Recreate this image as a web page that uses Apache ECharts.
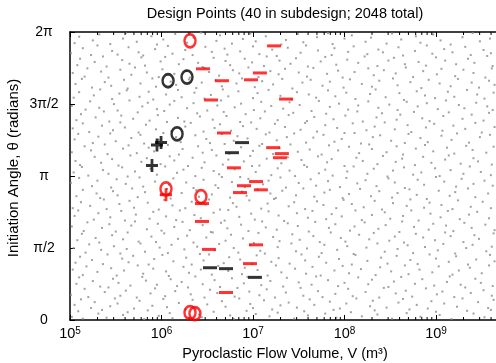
<!DOCTYPE html>
<html><head><meta charset="utf-8">
<script src="https://cdn.jsdelivr.net/npm/echarts@6/dist/echarts.min.js"></script>
<style>html,body{margin:0;padding:0;background:#fff}#c{width:496px;height:363px}</style>
</head><body><div id="c"></div>
<script>
const PI = Math.PI;
const titleText = 'Design Points (40 in subdesign; 2048 total)';
const xName = 'Pyroclastic Flow Volume, V (m³)';
const yName = 'Initiation Angle, θ (radians)';
const yTickLabels = ['0', 'π/2', 'π', '3π/2', '2π'];
const xMinorMultipliers = [2, 3, 4, 5, 6, 7, 8, 9];
const xDecades = [5, 6, 7, 8, 9];

// subdesign points: [V (m^3), theta (rad)]
const redO = [[2.05e6, 6.09], [1.12e6, 2.86], [2.70e6, 2.69], [2.05e6, 0.16], [2.32e6, 0.14]];
const blackO = [[1.18e6, 5.22], [1.90e6, 5.30], [1.48e6, 4.06]];
const blackPlus = [[8.93e5, 3.82], [9.89e5, 3.87], [7.87e5, 3.37]];
const redPlus = [[1.12e6, 2.73]];
const redDash = [[2.84e6, 5.48], [4.58e6, 5.22], [9.51e6, 5.24], [1.19e7, 5.39], [1.70e7, 5.98], [3.48e6, 4.80], [2.30e7, 4.82], [4.82e6, 4.08], [1.66e7, 3.76], [2.07e7, 3.63], [1.97e7, 3.54], [6.19e6, 3.32], [1.08e7, 3.02], [7.98e6, 2.93], [1.22e7, 2.84], [7.21e6, 2.78], [2.77e6, 2.54], [2.77e6, 2.15], [3.30e6, 1.54], [1.08e7, 1.64], [9.27e6, 1.23], [5.07e6, 0.60]];
const blackDash = [[7.59e6, 3.87], [5.89e6, 3.65], [3.39e6, 1.14], [5.07e6, 1.12], [1.05e7, 0.93]];

// full design (background), pairs of [log10 V, theta]
const grayLogVTheta = [
5.02,.07,5.09,.19,5.14,.03,5.31,.14,5.35,.22,5.40,.05,5.58,.11,5.63,.17,5.81,.02,5.85,.21,5.97,.09,6.09,.15,6.12,.04,6.26,.23,6.41,.12,6.44,.06,6.57,.18,6.75,.10,6.79,.02,6.93,.20,7.03,.13,7.18,.08,7.21,.23,7.27,.16,7.45,.03,7.56,.19,7.60,.10,7.79,.14,7.88,.22,7.91,.05,8.07,.17,8.19,.08,8.33,.21,8.36,.12,8.52,.03,8.68,.15,8.71,.23,8.83,.07,9.00,.18,9.04,.11,9.17,.02,9.34,.20,9.41,.14,9.53,.06,9.60,.22,
5.05,.33,5.12,.45,5.23,.26,5.27,.39,5.44,.30,5.49,.47,5.52,.36,5.70,.25,5.76,.42,5.90,.31,6.02,.46,6.06,.28,6.19,.37,6.34,.44,6.38,.25,6.50,.34,6.66,.41,6.70,.29,6.85,.47,6.97,.35,7.00,.26,7.12,.43,7.30,.32,7.39,.38,7.48,.27,7.62,.45,7.67,.33,7.84,.40,7.95,.25,8.02,.36,8.13,.47,8.28,.30,8.31,.42,8.46,.27,8.59,.38,8.64,.46,8.79,.33,8.91,.25,8.95,.41,9.09,.36,9.23,.29,9.29,.47,9.46,.39,9.57,.26,9.63,.44,
5.01,.55,5.16,.68,5.20,.50,5.38,.61,5.42,.71,5.55,.53,5.61,.64,5.73,.49,5.88,.58,5.93,.69,6.04,.52,6.15,.63,6.29,.71,6.32,.56,6.47,.49,6.53,.66,6.61,.59,6.80,.51,6.83,.70,6.96,.62,7.07,.54,7.15,.67,7.24,.49,7.36,.60,7.52,.70,7.55,.53,7.71,.63,7.76,.50,7.90,.57,8.04,.68,8.09,.52,8.23,.61,8.38,.49,8.43,.70,8.56,.58,8.67,.64,8.74,.51,8.89,.69,9.01,.56,9.07,.62,9.20,.50,9.32,.71,9.38,.59,9.52,.65,9.61,.53,
5.07,.79,5.10,.93,5.25,.85,5.33,.73,5.47,.90,5.53,.81,5.66,.75,5.79,.94,5.83,.86,5.95,.77,6.10,.89,6.17,.74,6.22,.83,6.37,.95,6.45,.78,6.58,.87,6.64,.72,6.77,.91,6.90,.80,6.94,.94,7.09,.76,7.19,.85,7.33,.73,7.37,.92,7.50,.82,7.64,.77,7.69,.95,7.82,.87,7.93,.74,8.00,.81,8.15,.93,8.26,.78,8.30,.88,8.48,.72,8.54,.84,8.62,.94,8.77,.79,8.85,.89,8.98,.75,9.12,.83,9.15,.95,9.27,.77,9.43,.90,9.49,.81,9.62,.74,
5.03,1.10,5.14,.98,5.18,1.17,5.30,1.05,5.45,1.13,5.51,.97,5.59,1.08,5.74,1.19,5.80,1.01,5.91,1.12,6.05,1.06,6.08,.96,6.24,1.16,6.30,1.03,6.43,1.10,6.55,.99,6.62,1.18,6.73,1.07,6.88,1.00,6.91,1.14,7.05,1.09,7.16,.97,7.25,1.19,7.31,1.04,7.46,1.12,7.58,1.01,7.65,1.16,7.74,.97,7.89,1.08,7.98,1.18,8.05,1.02,8.18,1.11,8.34,.98,8.39,1.15,8.51,1.06,8.66,1.19,8.70,1.00,8.82,1.10,8.96,1.04,9.03,1.17,9.18,.99,9.25,1.08,9.37,1.14,9.50,1.02,9.58,1.19,
5.06,1.25,5.11,1.38,5.24,1.31,5.36,1.22,5.41,1.43,5.57,1.34,5.64,1.26,5.69,1.40,5.86,1.21,5.92,1.33,6.01,1.42,6.13,1.28,6.27,1.36,6.33,1.21,6.46,1.30,6.52,1.43,6.68,1.24,6.74,1.37,6.86,1.32,6.99,1.22,7.04,1.41,7.20,1.27,7.28,1.35,7.40,1.23,7.53,1.43,7.57,1.30,7.72,1.38,7.80,1.25,7.94,1.33,8.08,1.21,8.12,1.42,8.25,1.29,8.40,1.36,8.47,1.23,8.57,1.40,8.72,1.31,8.80,1.22,8.93,1.43,9.00,1.34,9.14,1.27,9.22,1.39,9.35,1.21,9.44,1.32,9.59,1.42,9.64,1.28,
5.04,1.57,5.17,1.47,5.21,1.65,5.34,1.53,5.48,1.61,5.55,1.45,5.62,1.55,5.77,1.67,5.82,1.49,5.98,1.58,6.07,1.46,6.11,1.64,6.25,1.54,6.39,1.60,6.42,1.44,6.58,1.52,6.63,1.66,6.79,1.57,6.84,1.47,6.97,1.63,7.08,1.51,7.13,1.45,7.27,1.59,7.42,1.67,7.47,1.50,7.59,1.56,7.75,1.46,7.78,1.64,7.92,1.53,8.03,1.61,8.10,1.44,8.24,1.58,8.36,1.67,8.44,1.49,8.58,1.55,8.69,1.63,8.75,1.46,8.88,1.59,9.02,1.52,9.08,1.66,9.21,1.45,9.33,1.57,9.40,1.64,9.55,1.50,9.61,1.60,
5.08,1.74,5.13,1.88,5.28,1.79,5.32,1.69,5.46,1.85,5.58,1.76,5.63,1.91,5.75,1.71,5.89,1.82,5.94,1.70,6.03,1.89,6.18,1.77,6.28,1.84,6.35,1.69,6.49,1.80,6.56,1.91,6.70,1.73,6.76,1.86,6.89,1.78,7.01,1.68,7.06,1.90,7.22,1.81,7.29,1.72,7.43,1.87,7.51,1.75,7.66,1.83,7.73,1.70,7.85,1.91,7.96,1.79,8.01,1.71,8.16,1.86,8.27,1.76,8.32,1.90,8.49,1.73,8.55,1.82,8.65,1.69,8.78,1.88,8.86,1.80,8.99,1.74,9.10,1.91,9.16,1.83,9.30,1.70,9.42,1.85,9.47,1.77,9.63,1.89,
5.02,2.04,5.15,1.94,5.19,2.13,5.35,2.01,5.43,2.09,5.50,1.93,5.67,2.06,5.71,2.15,5.84,1.98,5.96,2.10,6.00,1.95,6.14,2.03,6.23,2.14,6.31,1.96,6.45,2.07,6.54,1.92,6.65,2.12,6.72,2.00,6.87,2.08,6.95,1.94,7.10,2.15,7.14,2.02,7.26,1.97,7.38,2.11,7.49,2.05,7.61,1.93,7.68,2.14,7.83,2.01,7.90,2.09,8.06,1.95,8.11,2.04,8.22,2.13,8.37,1.99,8.45,2.07,8.60,1.92,8.63,2.15,8.76,2.03,8.92,1.97,8.97,2.10,9.11,2.06,9.19,1.94,9.31,2.12,9.39,2.01,9.54,2.08,9.64,1.96,
5.05,2.27,5.09,2.39,5.26,2.19,5.31,2.33,5.44,2.24,5.56,2.38,5.60,2.17,5.72,2.30,5.87,2.21,5.91,2.36,6.05,2.26,6.16,2.18,6.20,2.39,6.36,2.29,6.43,2.22,6.57,2.34,6.69,2.17,6.73,2.40,6.85,2.25,6.98,2.32,7.02,2.19,7.17,2.37,7.28,2.28,7.34,2.16,7.48,2.33,7.60,2.23,7.65,2.38,7.80,2.20,7.86,2.31,7.97,2.26,8.12,2.39,8.19,2.18,8.30,2.29,8.44,2.35,8.50,2.21,8.64,2.27,8.73,2.39,8.81,2.17,8.94,2.32,9.05,2.24,9.13,2.38,9.26,2.20,9.36,2.30,9.45,2.36,9.58,2.22,
5.03,2.44,5.12,2.57,5.22,2.49,5.37,2.63,5.40,2.42,5.54,2.53,5.65,2.60,5.70,2.45,5.85,2.56,5.97,2.41,6.03,2.62,6.12,2.50,6.26,2.44,6.33,2.58,6.48,2.52,6.52,2.63,6.64,2.41,6.78,2.55,6.82,2.47,6.96,2.61,7.09,2.43,7.16,2.54,7.23,2.64,7.39,2.48,7.45,2.57,7.57,2.42,7.70,2.59,7.77,2.51,7.91,2.44,7.99,2.62,8.08,2.53,8.21,2.46,8.33,2.60,8.41,2.41,8.53,2.55,8.68,2.49,8.72,2.63,8.87,2.45,8.93,2.56,9.06,2.51,9.18,2.42,9.24,2.61,9.38,2.47,9.51,2.58,9.60,2.44,
5.07,2.70,5.14,2.84,5.29,2.76,5.33,2.66,5.47,2.81,5.52,2.72,5.68,2.87,5.74,2.68,5.82,2.79,5.99,2.73,6.06,2.86,6.10,2.65,6.22,2.77,6.38,2.83,6.41,2.69,6.55,2.74,6.62,2.88,6.75,2.67,6.88,2.80,6.93,2.71,7.05,2.85,7.19,2.76,7.25,2.66,7.32,2.82,7.47,2.72,7.55,2.87,7.67,2.69,7.78,2.78,7.84,2.84,7.98,2.66,8.05,2.75,8.17,2.86,8.29,2.70,8.38,2.81,8.52,2.67,8.58,2.77,8.71,2.85,8.79,2.73,8.90,2.64,9.03,2.82,9.15,2.71,9.21,2.79,9.35,2.87,9.43,2.68,9.57,2.76,
5.01,2.99,5.10,3.10,5.24,2.92,5.30,3.04,5.45,2.89,5.51,3.07,5.61,2.97,5.76,3.11,5.80,2.91,5.93,3.02,6.08,2.95,6.13,3.09,6.27,3.00,6.35,2.88,6.46,3.06,6.59,2.94,6.66,3.12,6.77,3.01,6.91,2.90,6.95,3.08,7.11,2.96,7.17,3.04,7.30,3.11,7.36,2.89,7.50,2.99,7.63,3.07,7.69,2.93,7.82,3.03,7.95,2.90,8.02,3.10,8.14,2.98,8.23,3.05,8.35,2.92,8.48,3.09,8.55,3.00,8.66,2.88,8.80,3.06,8.87,2.95,9.00,3.12,9.09,3.02,9.22,2.91,9.28,3.08,9.41,2.97,9.53,3.04,9.62,2.93,
5.04,3.22,5.13,3.34,5.20,3.15,5.36,3.27,5.42,3.19,5.57,3.33,5.63,3.13,5.71,3.24,5.88,3.30,5.95,3.17,6.04,3.35,6.17,3.21,6.24,3.28,6.37,3.14,6.44,3.32,6.57,3.25,6.63,3.18,6.80,3.29,6.86,3.12,6.99,3.36,7.03,3.23,7.20,3.16,7.27,3.31,7.40,3.26,7.46,3.14,7.59,3.34,7.72,3.20,7.79,3.28,7.87,3.15,8.03,3.24,8.10,3.35,8.25,3.19,8.32,3.30,8.47,3.13,8.53,3.26,8.65,3.33,8.75,3.17,8.84,3.22,8.99,3.31,9.04,3.14,9.16,3.27,9.30,3.19,9.37,3.35,9.49,3.23,9.60,3.16,
5.06,3.47,5.11,3.38,5.27,3.56,5.34,3.43,5.46,3.51,5.53,3.37,5.66,3.59,5.78,3.45,5.84,3.53,5.99,3.40,6.09,3.57,6.14,3.48,6.29,3.36,6.34,3.54,6.47,3.44,6.60,3.59,6.67,3.39,6.73,3.50,6.90,3.46,6.97,3.58,7.07,3.37,7.15,3.52,7.31,3.42,7.38,3.55,7.53,3.49,7.56,3.38,7.71,3.57,7.81,3.44,7.86,3.51,8.00,3.36,8.13,3.54,8.20,3.47,8.36,3.40,8.42,3.58,8.56,3.45,8.63,3.52,8.77,3.38,8.86,3.56,8.95,3.43,9.10,3.50,9.14,3.59,9.27,3.41,9.41,3.53,9.46,3.46,9.61,3.39,
5.02,3.66,5.16,3.79,5.23,3.70,5.38,3.83,5.41,3.62,5.58,3.74,5.64,3.81,5.73,3.64,5.86,3.76,5.92,3.68,6.07,3.82,6.19,3.61,6.23,3.73,6.40,3.79,6.45,3.65,6.55,3.71,6.69,3.84,6.74,3.63,6.87,3.77,7.00,3.69,7.07,3.80,7.22,3.62,7.29,3.75,7.41,3.83,7.49,3.67,7.62,3.72,7.75,3.61,7.83,3.81,7.93,3.70,8.05,3.78,8.16,3.64,8.27,3.83,8.30,3.73,8.46,3.66,8.57,3.79,8.64,3.61,8.78,3.74,8.88,3.82,8.97,3.68,9.12,3.76,9.20,3.63,9.33,3.80,9.40,3.71,9.55,3.65,9.63,3.78,
5.05,3.94,5.09,4.06,5.25,3.86,5.31,4.00,5.44,4.07,5.50,3.90,5.67,3.97,5.77,4.04,5.81,3.85,5.97,3.93,6.02,4.08,6.16,3.99,6.21,3.88,6.37,4.03,6.49,3.95,6.53,3.86,6.66,4.06,6.79,3.91,6.83,4.01,6.94,3.96,7.10,3.84,7.14,4.05,7.26,3.92,7.37,3.99,7.45,4.07,7.58,3.87,7.66,3.98,7.77,4.04,7.89,3.89,7.97,3.95,8.11,4.08,8.18,3.85,8.31,3.99,8.39,4.03,8.51,3.91,8.66,3.86,8.70,4.06,8.83,3.97,8.91,3.88,9.06,4.02,9.17,3.93,9.23,4.07,9.36,3.87,9.48,3.99,9.59,4.04,
5.03,4.18,5.14,4.29,5.21,4.10,5.35,4.24,5.47,4.14,5.55,4.31,5.60,4.20,5.75,4.09,5.83,4.26,5.94,4.16,6.06,4.32,6.11,4.12,6.26,4.22,6.32,4.30,6.46,4.11,6.58,4.19,6.64,4.27,6.76,4.13,6.89,4.23,6.98,4.31,7.04,4.17,7.18,4.09,7.24,4.28,7.35,4.21,7.52,4.15,7.57,4.30,7.70,4.11,7.79,4.25,7.92,4.19,8.00,4.08,8.09,4.29,8.24,4.14,8.33,4.22,8.44,4.31,8.55,4.16,8.69,4.25,8.73,4.10,8.89,4.20,8.98,4.28,9.07,4.13,9.19,4.24,9.32,4.17,9.43,4.30,9.50,4.09,9.64,4.21,
5.07,4.36,5.12,4.49,5.28,4.42,5.37,4.55,5.43,4.33,5.56,4.46,5.69,4.39,5.74,4.53,5.87,4.35,5.96,4.47,6.03,4.56,6.18,4.41,6.25,4.33,6.39,4.51,6.42,4.44,6.56,4.37,6.68,4.54,6.71,4.45,6.86,4.32,6.92,4.49,7.08,4.40,7.13,4.55,7.27,4.36,7.39,4.47,7.44,4.52,7.59,4.34,7.67,4.43,7.80,4.50,7.88,4.38,8.01,4.46,8.14,4.55,8.20,4.33,8.35,4.42,8.41,4.51,8.57,4.37,8.61,4.48,8.76,4.54,8.85,4.40,8.93,4.34,9.08,4.45,9.14,4.53,9.29,4.39,9.39,4.48,9.52,4.35,9.58,4.52,
5.02,4.67,5.17,4.59,5.22,4.77,5.32,4.63,5.48,4.71,5.52,4.57,5.65,4.79,5.79,4.66,5.85,4.74,5.95,4.60,6.09,4.70,6.14,4.78,6.28,4.62,6.35,4.73,6.50,4.57,6.61,4.68,6.65,4.79,6.80,4.64,6.87,4.72,7.01,4.58,7.09,4.76,7.20,4.67,7.33,4.61,7.40,4.75,7.51,4.69,7.64,4.56,7.72,4.78,7.84,4.65,7.94,4.72,8.04,4.59,8.15,4.68,8.26,4.77,8.37,4.63,8.49,4.70,8.58,4.58,8.68,4.76,8.80,4.66,8.90,4.73,9.02,4.60,9.11,4.79,9.25,4.69,9.31,4.62,9.44,4.74,9.56,4.66,9.62,4.58,
5.04,4.85,5.10,4.97,5.26,4.90,5.33,5.03,5.46,4.82,5.54,4.94,5.62,5.01,5.76,4.87,5.86,4.98,5.91,4.81,6.05,4.92,6.18,5.02,6.22,4.86,6.36,4.96,6.47,4.83,6.54,4.91,6.67,5.03,6.73,4.88,6.84,4.99,7.00,4.84,7.05,4.95,7.17,5.02,7.30,4.89,7.42,4.81,7.48,4.97,7.61,4.92,7.69,4.85,7.82,5.01,7.90,4.88,8.02,4.96,8.12,4.82,8.28,4.93,8.34,5.03,8.45,4.86,8.60,4.95,8.65,4.80,8.79,4.99,8.88,4.90,8.99,4.84,9.13,4.98,9.20,4.87,9.34,5.02,9.45,4.92,9.53,4.83,9.63,4.96,
5.06,5.15,5.13,5.26,5.24,5.07,5.38,5.19,5.45,5.11,5.59,5.24,5.63,5.05,5.77,5.16,5.90,5.27,5.94,5.09,6.10,5.20,6.16,5.13,6.30,5.25,6.38,5.06,6.44,5.18,6.59,5.23,6.66,5.10,6.82,5.16,6.88,5.27,7.02,5.08,7.10,5.21,7.22,5.14,7.32,5.26,7.43,5.05,7.54,5.18,7.63,5.24,7.76,5.11,7.84,5.20,7.99,5.07,8.06,5.25,8.19,5.15,8.30,5.09,8.38,5.22,8.53,5.27,8.58,5.12,8.72,5.19,8.84,5.06,8.92,5.24,9.04,5.16,9.16,5.10,9.24,5.26,9.39,5.18,9.47,5.07,9.58,5.22,9.64,5.13,
5.03,5.39,5.16,5.31,5.19,5.49,5.34,5.42,5.42,5.29,5.55,5.46,5.67,5.35,5.71,5.51,5.84,5.40,5.97,5.30,6.01,5.47,6.14,5.37,6.27,5.44,6.31,5.29,6.47,5.50,6.52,5.41,6.63,5.33,6.78,5.45,6.85,5.38,6.95,5.51,7.06,5.30,7.19,5.43,7.28,5.36,7.35,5.48,7.50,5.40,7.59,5.31,7.66,5.50,7.81,5.37,7.93,5.44,7.98,5.29,8.11,5.41,8.26,5.49,8.32,5.34,8.43,5.45,8.56,5.38,8.67,5.51,8.75,5.30,8.86,5.43,9.01,5.36,9.06,5.48,9.21,5.32,9.30,5.46,9.41,5.39,9.54,5.29,9.61,5.49,
5.08,5.56,5.11,5.70,5.27,5.63,5.36,5.75,5.40,5.53,5.57,5.67,5.65,5.59,5.78,5.73,5.82,5.55,5.99,5.64,6.04,5.74,6.19,5.58,6.24,5.69,6.40,5.61,6.45,5.52,6.57,5.72,6.70,5.65,6.75,5.56,6.91,5.70,6.99,5.62,7.12,5.54,7.15,5.75,7.29,5.66,7.41,5.59,7.47,5.71,7.60,5.53,7.74,5.64,7.79,5.74,7.91,5.57,8.03,5.68,8.15,5.61,8.22,5.75,8.36,5.54,8.48,5.66,8.54,5.72,8.66,5.58,8.81,5.63,8.89,5.55,9.00,5.73,9.10,5.66,9.22,5.58,9.35,5.70,9.42,5.61,9.56,5.76,9.62,5.54,
5.01,5.82,5.14,5.93,5.23,5.78,5.30,5.99,5.46,5.87,5.52,5.79,5.64,5.95,5.75,5.84,5.80,5.77,5.93,5.91,6.07,5.98,6.12,5.81,6.26,5.89,6.34,5.78,6.48,5.96,6.55,5.85,6.69,5.92,6.72,5.79,6.86,5.86,7.00,5.97,7.07,5.80,7.21,5.90,7.26,5.76,7.38,5.94,7.52,5.83,7.58,5.99,7.71,5.88,7.86,5.78,7.89,5.93,8.04,5.85,8.10,5.97,8.25,5.80,8.37,5.90,8.42,5.84,8.59,5.95,8.64,5.77,8.77,5.87,8.90,5.99,8.96,5.81,9.09,5.91,9.18,5.84,9.32,5.96,9.38,5.78,9.52,5.89,9.60,5.82,
5.05,6.04,5.10,6.18,5.25,6.10,5.32,6.23,5.44,6.02,5.58,6.14,5.61,6.26,5.73,6.07,5.89,6.19,5.95,6.01,6.02,6.12,6.15,6.24,6.28,6.05,6.35,6.16,6.43,6.27,6.60,6.09,6.64,6.21,6.77,6.03,6.89,6.13,6.97,6.25,7.03,6.08,7.14,6.19,7.31,6.01,7.36,6.11,7.49,6.24,7.55,6.06,7.70,6.17,7.82,6.26,7.87,6.02,8.00,6.14,8.08,6.21,8.23,6.07,8.29,6.16,8.46,6.03,8.52,6.25,8.62,6.12,8.78,6.19,8.83,6.05,8.97,6.23,9.05,6.10,9.16,6.01,9.29,6.17,9.40,6.26,9.48,6.08,9.59,6.14
];

const FONT = '"Liberation Sans", Arial, sans-serif';
const X_MIN = 1e5, X_MAX = Math.pow(10, 9.656);

const grayData = [];
for (let i = 0; i < grayLogVTheta.length; i += 2) grayData.push([Math.pow(10, grayLogVTheta[i]), grayLogVTheta[i + 1]]);
const minorTicks = [];
xDecades.forEach(e => xMinorMultipliers.forEach(m => { const v = m * Math.pow(10, e); if (v < X_MAX) minorTicks.push([v, 0]); }));

const PLUS = 'path://M0,5h13v3h-13z M5,0h3v13h-3z';

function xLabel(v) {
  const e = Math.log10(v);
  if (Math.abs(e - Math.round(e)) > 1e-6) return '';
  return '{b|10}{s|' + Math.round(e) + '}';
}
const xRich = {
  b: { fontSize: 14.5, fontFamily: FONT, color: '#000', lineHeight: 15, verticalAlign: 'bottom' },
  s: { fontSize: 10, fontFamily: FONT, color: '#000', lineHeight: 10, verticalAlign: 'top', padding: [0, 0, 7, 0] }
};

const chart = echarts.init(document.getElementById('c'), null, { renderer: 'canvas' });
chart.setOption({
  animation: false,
  backgroundColor: '#fff',
  grid: { left: 70, right: 0, top: 32, bottom: 43, containLabel: false },
  xAxis: [{
    type: 'log', logBase: 10, min: X_MIN, max: X_MAX, position: 'bottom',
    axisLine: { show: true, lineStyle: { color: '#000', width: 1.5 } },
    axisTick: { show: true, inside: true, length: 5, lineStyle: { color: '#000', width: 1 } },
    axisLabel: { formatter: xLabel, rich: xRich, margin: 6, showMaxLabel: false },
    splitLine: { show: false }, minorTick: { show: false }
  }, {
    type: 'log', logBase: 10, min: X_MIN, max: X_MAX, position: 'top',
    axisLine: { show: true, lineStyle: { color: '#000', width: 1.5 } },
    axisTick: { show: true, inside: true, length: 5, lineStyle: { color: '#000', width: 1 } },
    axisLabel: { show: false }, splitLine: { show: false }
  }],
  yAxis: {
    type: 'value', min: 0, max: 2 * PI, interval: PI / 2,
    axisLine: { show: true, lineStyle: { color: '#000', width: 1.5 } },
    axisTick: { show: true, inside: true, length: 5, lineStyle: { color: '#000', width: 1 } },
    axisLabel: {
      formatter: v => yTickLabels[Math.round(v / (PI / 2))],
      align: 'center', margin: 26, fontSize: 14, fontFamily: FONT, color: '#000'
    },
    splitLine: { show: false }
  },
  graphic: [
    { type: 'text', x: 285, y: 14, style: { text: titleText, font: '14.5px ' + FONT, fill: '#000', textAlign: 'center', textVerticalAlign: 'middle' } },
    { type: 'text', x: 285, y: 354, style: { text: xName, font: '14.5px ' + FONT, fill: '#000', textAlign: 'center', textVerticalAlign: 'middle' } },
    { type: 'text', x: 14, y: 168, rotation: PI / 2, style: { text: yName, font: '15px ' + FONT, fill: '#000', textAlign: 'center', textVerticalAlign: 'middle' } }
  ],
  series: [
    { type: 'scatter', data: grayData, symbol: 'rect', symbolSize: 2, itemStyle: { color: '#8a8a8a' }, silent: true, z: 1 },
    {
      type: 'custom', data: minorTicks, z: 3, silent: true, clip: true,
      renderItem: (params, api) => {
        const b = api.coord([api.value(0), 0]);
        const t = api.coord([api.value(0), 2 * PI]);
        return { type: 'group', children: [
          { type: 'line', shape: { x1: b[0], y1: b[1], x2: b[0], y2: b[1] - 3 }, style: { stroke: '#000', lineWidth: 1 } },
          { type: 'line', shape: { x1: t[0], y1: t[1], x2: t[0], y2: t[1] + 3 }, style: { stroke: '#000', lineWidth: 1 } }
        ] };
      }
    },
    { type: 'scatter', data: redDash, symbol: 'rect', symbolSize: [14, 3], itemStyle: { color: '#ff0000' }, z: 5 },
    { type: 'scatter', data: blackDash, symbol: 'rect', symbolSize: [14, 3], itemStyle: { color: '#000' }, z: 5 },
    { type: 'scatter', data: blackPlus, symbol: PLUS, symbolSize: [12, 13], itemStyle: { color: '#000' }, z: 5 },
    { type: 'scatter', data: redPlus, symbol: PLUS, symbolSize: [12, 13], itemStyle: { color: '#ff0000' }, z: 5 },
    { type: 'scatter', data: blackO, symbol: 'circle', symbolSize: [11, 13], itemStyle: { color: 'rgba(0,0,0,0)', borderColor: '#000', borderWidth: 2.6 }, z: 5 },
    { type: 'scatter', data: redO, symbol: 'circle', symbolSize: [11, 13], itemStyle: { color: 'rgba(0,0,0,0)', borderColor: '#ff0000', borderWidth: 2.6 }, z: 5 }
  ]
});
</script>
</body></html>
